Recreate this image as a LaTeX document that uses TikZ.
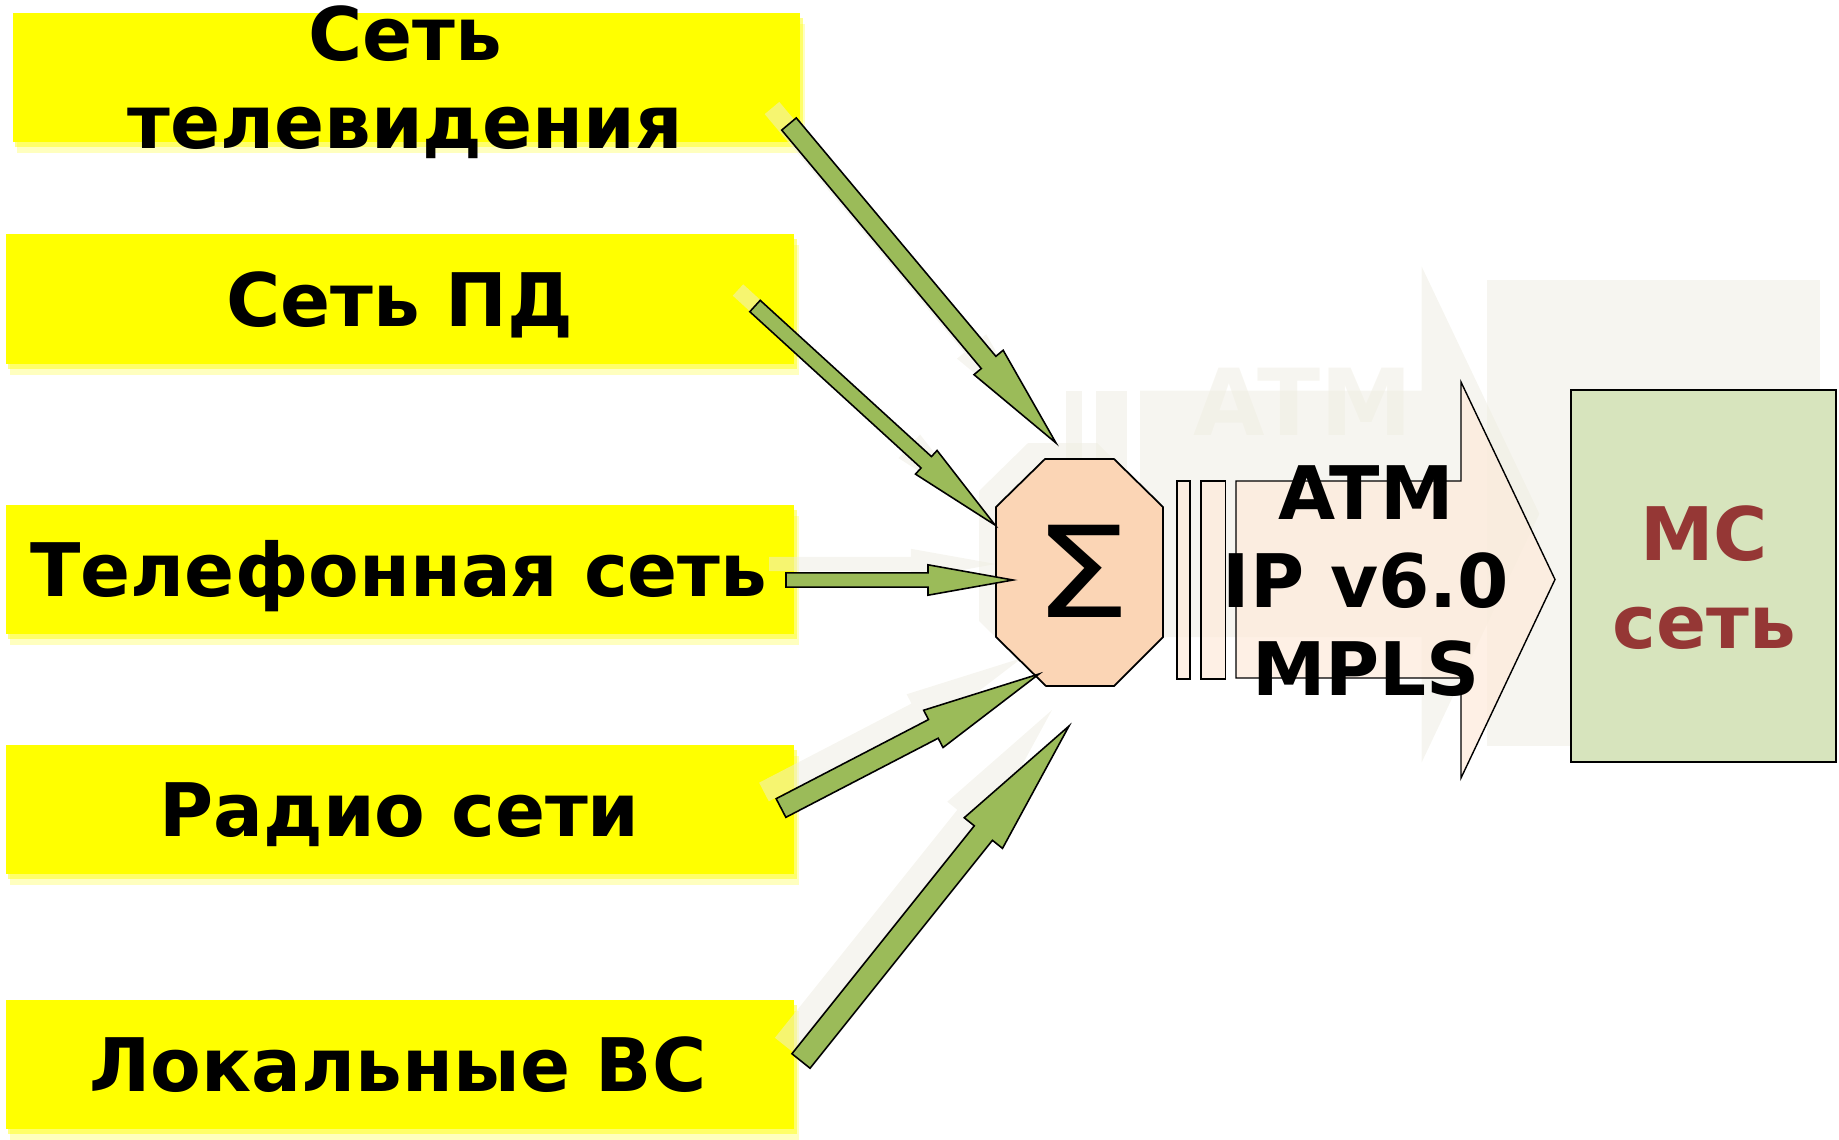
\documentclass[tikz,border=0pt]{standalone}
\usepackage{fontspec}
\setmainfont{DejaVu Sans}
\usetikzlibrary{calc, shadows}

\definecolor{boxyellow}{HTML}{FFFF00}
\definecolor{arrowgreen}{HTML}{9BBB59}
\definecolor{sumpeach}{HTML}{FBD5B5}
\definecolor{atmpeach}{HTML}{FDEADA}
\definecolor{mcgreen}{HTML}{D7E4BD}
\definecolor{mcred}{HTML}{953735}
\definecolor{shadowtan}{HTML}{EEECE1}

% block arrow: [style]{tail}{tip}{shaft half width}{head half width}{head length}
\newcommand{\blockarrow}[6][]{%
  \coordinate (hb) at ($(#3)!#6!(#2)$);
  \path[#1] ($(#2)!#4!90:(#3)$) -- ($(hb)!#4!90:(#3)$) -- ($(hb)!#5!90:(#3)$) -- (#3)
    -- ($(hb)!#5!-90:(#3)$) -- ($(hb)!#4!-90:(#3)$) -- ($(#2)!#4!-90:(#3)$) -- cycle;}

% bars and wide arrow of the transport layer
\newcommand{\atmshape}[1]{%
  \path[#1] (1177,481) rectangle (1190,679);
  \path[#1] (1201,481) rectangle (1225.5,679);
  \path[#1] (1236,481) -- (1461,481) -- (1461,382) -- (1555,579.5)
    -- (1461,778) -- (1461,678) -- (1236,678) -- cycle;}

\begin{document}
\begin{tikzpicture}[x=0.01cm, y=-0.01cm,
  netbox/.style={fill=boxyellow, minimum width=7.88cm, minimum height=1.29cm, inner sep=0pt,
    general shadow={fill=boxyellow, opacity=.45, shadow xshift=.25mm, shadow yshift=-.5mm},
    general shadow={fill=boxyellow, opacity=.25, shadow xshift=.45mm, shadow yshift=-1.1mm}},
  lbl/.style={font=\fontsize{21}{25}\selectfont\bfseries, anchor=base, inner sep=0pt, align=center},
  feed/.style={fill=arrowgreen, draw=black, line width=.45pt},
  ghost/.style={fill=shadowtan, fill opacity=.5},
  sumshape/.style={fill=sumpeach, draw=black, line width=.5pt},
  atmbox/.style={fill=atmpeach, fill opacity=.7, draw=black, line width=.4pt},
  mcbox/.style={fill=mcgreen, draw=black, line width=.6pt, minimum width=2.645cm,
    minimum height=3.715cm, inner sep=0pt}
]
\useasboundingbox (0,0) rectangle (1839,1139);

% source networks
\node[netbox, minimum width=7.87cm] (tv) at (406.5,77.5) {};
\node[netbox] (pd) at (400,299) {};
\node[netbox] (phone) at (400,569.5) {};
\node[netbox] (radio) at (400,809.5) {};
\node[netbox] (lan) at (400,1064.5) {};

\coordinate (tvout) at (789,124);     \coordinate (tvin) at (1056,443);
\coordinate (pdout) at (755,306);     \coordinate (pdin) at (995,525);
\coordinate (phoneout) at (786,580);  \coordinate (phonein) at (1013,580);
\coordinate (radioout) at (781,808);  \coordinate (radioin) at (1039,674);
\coordinate (lanout) at (801,1061);   \coordinate (lanin) at (1069,726);

% shadows
\begin{scope}[transform canvas={shift={(-17,-16)}}]
  \blockarrow[ghost]{tvout}{tvin}{.95mm}{1.9mm}{10.5mm}
  \blockarrow[ghost]{pdout}{pdin}{.77mm}{1.6mm}{9.3mm}
  \blockarrow[ghost]{phoneout}{phonein}{.71mm}{1.52mm}{8.5mm}
  \blockarrow[ghost]{radioout}{radioin}{1.05mm}{2.1mm}{11.9mm}
  \blockarrow[ghost]{lanout}{lanin}{1.16mm}{2.45mm}{13.7mm}
  \path[ghost] (1045,459) -- (1114,459) -- (1163,507) -- (1163,637) -- (1114,686)
    -- (1046,686) -- (996,637) -- (996,507) -- cycle;
\end{scope}
\begin{scope}[shift={(1617,840)}, scale=1.252, shift={(-1617,-840)}, transform shape]
  \atmshape{ghost}
  \node[lbl, text=shadowtan, text opacity=.5] (atmghost) at (1366,516.6) {ATM};
\end{scope}
\path[ghost] (1487,280) rectangle (1820,746);

% multiplexer
\draw[sumshape] (1045,459) -- (1114,459) -- (1163,507) -- (1163,637) -- (1114,686)
  -- (1046,686) -- (996,637) -- (996,507) -- cycle;
\node[font=\fontsize{36}{36}\selectfont, inner sep=0pt, xscale=1.22] (sum) at (1082,571.5) {Σ};

% feeds into the multiplexer
\blockarrow[feed]{tvout}{tvin}{.95mm}{1.9mm}{10.5mm}
\blockarrow[feed]{pdout}{pdin}{.77mm}{1.6mm}{9.3mm}
\blockarrow[feed]{phoneout}{phonein}{.71mm}{1.52mm}{8.5mm}
\blockarrow[feed]{radioout}{radioin}{1.05mm}{2.1mm}{11.9mm}
\blockarrow[feed]{lanout}{lanin}{1.16mm}{2.45mm}{13.7mm}

\atmshape{atmbox}
\node[lbl] (atm) at (1366,695.5) {ATM\\IP v6.0\\MPLS};

\node[mcbox] (mc) at (1703.75,576.25) {};
\node[lbl, text=mcred] (mctext) at (1704,648) {МС\\сеть};

\node[lbl] (tvtext) at (405,148) {Сеть\\телевидения};
\node[lbl] (pdtext) at (400,326) {Сеть ПД};
\node[lbl] (phonetext) at (399,596.7) {Телефонная сеть};
\node[lbl] (radiotext) at (399.5,836) {Радио сети};
\node[lbl] (lantext) at (398,1091) {Локальные ВС};
\end{tikzpicture}
\end{document}
